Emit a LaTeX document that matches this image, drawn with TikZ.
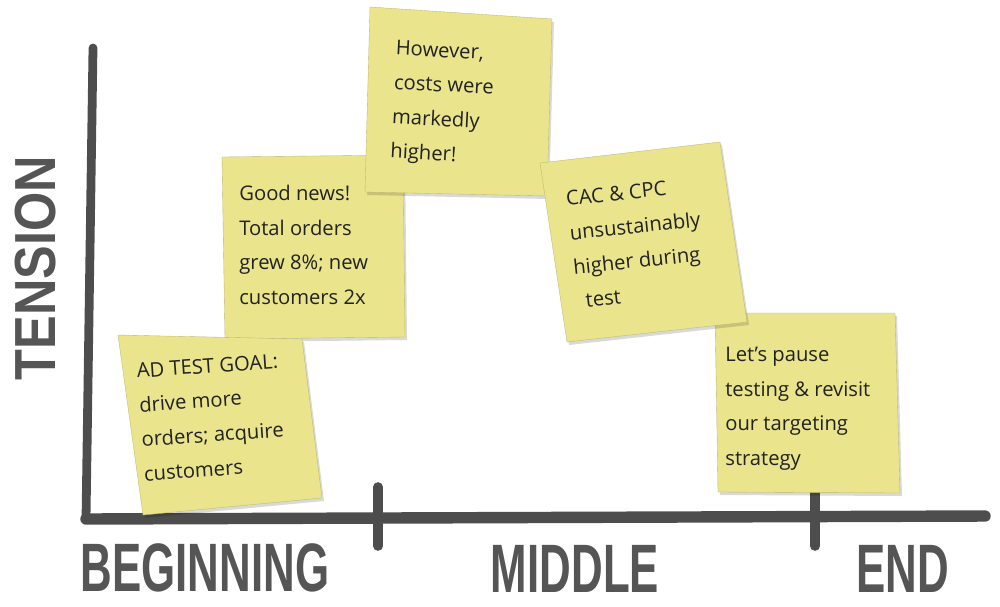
\documentclass[tikz,border=0pt]{standalone}
\usepackage{fontspec}
\setmainfont{Open Sans}
\newfontfamily\axisfont{Liberation Sans}
\usetikzlibrary{positioning}

\definecolor{notey}{RGB}{234,228,140}
\definecolor{axisgray}{RGB}{77,77,77}
\definecolor{inkc}{RGB}{34,34,34}
\definecolor{labelgray}{RGB}{85,85,85}

\tikzset{
  note/.style={fill=notey, draw=notey!80!black, line width=0.2pt, line join=round},
  noteshadow/.style={fill=black, opacity=0.15},
  notetext/.style={font=\fontsize{11.5}{19.6}\selectfont, text=inkc, align=left, anchor=north west, inner sep=0pt},
  axisline/.style={draw=axisgray, line cap=round, line join=round},
  axislabel/.style={font=\axisfont\bfseries\fontsize{39}{39}\selectfont, text=labelgray, inner sep=0pt},
}

\begin{document}
\begin{tikzpicture}[x=0.02cm, y=-0.02cm]
      \useasboundingbox (0,0) rectangle (1000,606);

      % Draw axes
      \coordinate (top) at (93,48);
      \coordinate (origin) at (86,519);
      \coordinate (far) at (985,516);
      \draw[axisline, line width=5pt] (top) -- (origin);
      \draw[axisline, line width=6.5pt] (origin) -- (far);

      % Axis ticks
      \draw[axisline, line width=5.5pt] (378,487) -- (378,546);
      \draw[axisline, line width=5.5pt] (815,480) -- (815,546);

      % Axis labels
      \node[axislabel] (beginning) at (205,568) {\scalebox{0.64}[1]{BEGINNING}};
      \node[axislabel] (middle) at (575,569) {\scalebox{0.64}[1]{MIDDLE}};
      \node[axislabel] (end) at (903,569) {\scalebox{0.64}[1]{END}};
      \node[axislabel, font=\axisfont\bfseries\fontsize{33}{33}\selectfont, rotate=90] (tension) at (36,268) {\scalebox{0.87}[1]{TENSION}};

      % Note: good news
      \fill[noteshadow] (224,160) -- (405,158) -- (407,340) -- (227,342) -- cycle;
      \filldraw[note] (222,157) -- (403,155) -- (405,337) -- (225,339) -- cycle;
      \node[notetext] (goodnews) at (239,185) {Good news!\\Total orders\\grew 8\%; new\\customers 2x};

      % Note: test goal
      \fill[noteshadow] (120,338) -- (304,342) -- (324,501) -- (145,518) -- cycle;
      \filldraw[note] (118,335) -- (302,339) -- (322,498) -- (143,515) -- cycle;
      \node[notetext, rotate=4] (goal) at (136,363) {AD TEST GOAL:\\drive more\\orders; acquire\\customers};

      % Note: costs
      \fill[noteshadow] (372,10) -- (554,22) -- (549,199) -- (367,195) -- cycle;
      \filldraw[note] (370,7) -- (552,19) -- (547,196) -- (365,192) -- cycle;
      \node[notetext, rotate=-3] (costs) at (396,40) {However,\\costs were\\markedly\\higher!};

      % Note: next steps
      \fill[noteshadow] (717,316) -- (897,316) -- (902,496) -- (720,495) -- cycle;
      \filldraw[note] (715,313) -- (895,313) -- (900,493) -- (718,492) -- cycle;
      \node[notetext] (pause) at (725,347) {Let’s pause\\testing \& revisit\\our targeting\\strategy};

      % Note: CAC and CPC
      \fill[noteshadow] (542,166) -- (722,145) -- (749,325) -- (569,345) -- cycle;
      \filldraw[note] (540,163) -- (720,142) -- (747,322) -- (567,342) -- cycle;
      \node[notetext, rotate=6] (cac) at (565,191) {CAC \& CPC\\unsustainably\\higher during\\\hspace{5pt}test};
\end{tikzpicture}
\end{document}
